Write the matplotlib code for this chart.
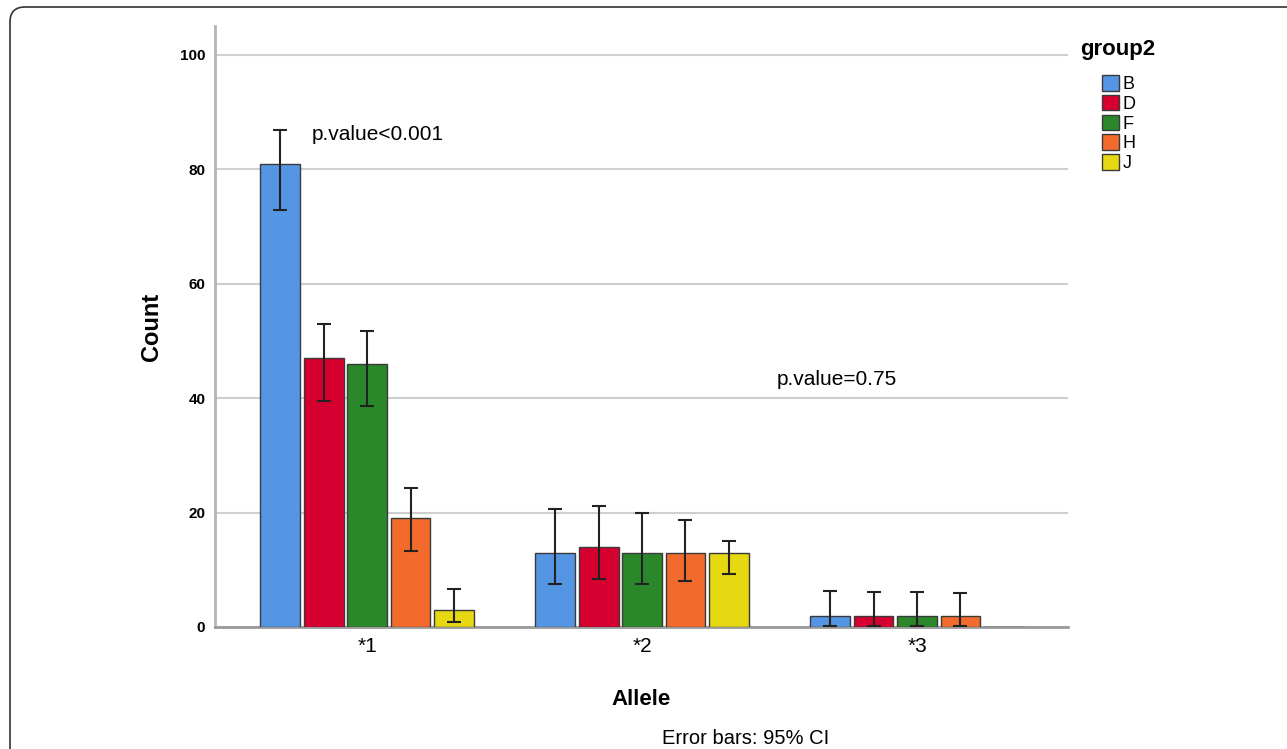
import numpy as np
import matplotlib
matplotlib.use("Agg")
import matplotlib.pyplot as plt
from matplotlib.patches import FancyBboxPatch

plt.rcParams['font.family'] = ['Liberation Sans', 'DejaVu Sans']

alleles = ["*1", "*2", "*3"]
groups = ["B", "D", "F", "H", "J"]
colors = ["#5596E4", "#D60030", "#2A882A", "#F26B2C", "#E6D811"]

# counts per group, one list per group (order: *1, *2, *3)
count_b = [81, 13, 2]
count_d = [47, 14, 2]
count_f = [46, 13, 2]
count_h = [19, 13, 2]
count_j = [3, 13, 0]

# 95% CI lower / upper
ci_low_b = [72.9, 7.5, 0.2]
ci_high_b = [86.8, 20.6, 6.3]
ci_low_d = [39.5, 8.4, 0.2]
ci_high_d = [52.9, 21.2, 6.2]
ci_low_f = [38.6, 7.6, 0.2]
ci_high_f = [51.7, 20.0, 6.2]
ci_low_h = [13.3, 8.0, 0.2]
ci_high_h = [24.3, 18.7, 6.0]
ci_low_j = [0.9, 9.3, np.nan]
ci_high_j = [6.7, 15.1, np.nan]

counts = [count_b, count_d, count_f, count_h, count_j]
lows = [ci_low_b, ci_low_d, ci_low_f, ci_low_h, ci_low_j]
highs = [ci_high_b, ci_high_d, ci_high_f, ci_high_h, ci_high_j]

fig = plt.figure(figsize=(12.87, 7.49), dpi=100)
ax = fig.add_axes([0.1671, 0.1629, 0.6627, 0.8019])

x = np.arange(len(alleles))
pitch = 0.158
width = 0.145
handles = []
for i, g in enumerate(groups):
    xs = x + (i - 2) * pitch
    vals = np.array(counts[i], dtype=float)
    lo = np.array(lows[i])
    hi = np.array(highs[i])
    b = ax.bar(xs, vals, width, color=colors[i], edgecolor="#3a3a3a",
               linewidth=1.0, label=g, zorder=3)
    handles.append(b)
    yerr = np.vstack([vals - lo, hi - vals])
    ax.errorbar(xs, vals, yerr=yerr, fmt="none", ecolor="#222222",
                elinewidth=1.5, capsize=5, capthick=1.5, zorder=4)

ax.set_xlim(-0.553, 2.549)
ax.set_ylim(0, 105)
ax.set_yticks([0, 20, 40, 60, 80, 100])
ax.set_yticklabels(["0", "20", "40", "60", "80", "100"], fontsize=11,
                   fontweight="bold")
ax.set_xticks(x)
ax.set_xticklabels(alleles, fontsize=15)
ax.tick_params(axis="both", length=0)
ax.tick_params(axis="y", pad=7)
ax.tick_params(axis="x", pad=7)
ax.yaxis.grid(True, color="#cfcfcf", linewidth=1.5, zorder=0)
ax.set_axisbelow(True)
for s in ["top", "right"]:
    ax.spines[s].set_visible(False)
ax.spines["left"].set_color("#b5b5b5")
ax.spines["left"].set_linewidth(2)
ax.spines["bottom"].set_color("#9a9a9a")
ax.spines["bottom"].set_linewidth(2)

ax.set_ylabel("Count", fontsize=17, fontweight="bold", labelpad=12)
ax.set_xlabel("Allele", fontsize=16, fontweight="bold", labelpad=24)

ax.text(0.04, 86.1, "p.value<0.001", fontsize=15, va="center", ha="center")
ax.text(1.71, 43.3, "p.value=0.75", fontsize=15, va="center", ha="center")

fig.text(1080 / 1287, 1 - 49 / 749, "group2", fontsize=16,
         fontweight="bold", va="center", ha="left")
fig.legend(handles=handles, labels=groups, loc="upper left",
           bbox_to_anchor=(1102 / 1287, 1 - 75 / 749), frameon=False,
           fontsize=13, handlelength=0.95, handleheight=0.95,
           handletextpad=0.2, labelspacing=0.1, borderpad=0,
           borderaxespad=0)

fig.text(746 / 1287, 1 - 748 / 749, "Error bars: 95% CI", fontsize=14.5,
         ha="center", va="bottom")

border = FancyBboxPatch((0.10, -1.0), 13.5, 7.42 + 1.0,
                        boxstyle="round,pad=0,rounding_size=0.15",
                        transform=fig.dpi_scale_trans, fill=False,
                        edgecolor="#333333", linewidth=1.2, clip_on=False)
fig.patches.append(border)

fig.savefig("out.png", dpi=100)
